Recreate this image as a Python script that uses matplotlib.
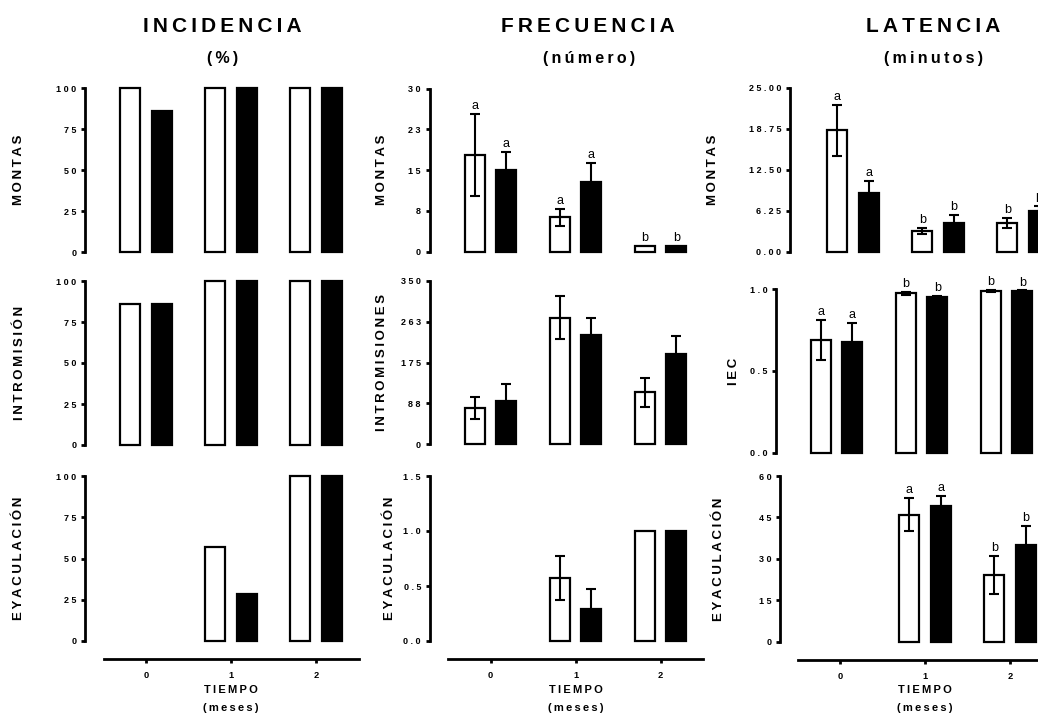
import numpy as np
import matplotlib.pyplot as plt

plt.rcParams['font.family'] = ['Liberation Sans', 'DejaVu Sans']

W, H = 1038, 714
THIN = '\u2009'

groups = ['0', '1', '2']
nan = np.nan

# INCIDENCIA (%)
inc_montas_w = [100, 100, 100]
inc_montas_k = [85.7, 100, 100]
inc_intro_w = [85.7, 100, 100]
inc_intro_k = [85.7, 100, 100]
inc_eyac_w = [nan, 57.1, 100]
inc_eyac_k = [nan, 28.6, 100]

# FRECUENCIA (numero)
frec_montas_w = [17.8, 6.3, 1.0]
frec_montas_w_err = [7.5, 1.5, 0]
frec_montas_k = [15.0, 12.9, 1.0]
frec_montas_k_err = [3.4, 3.4, 0]
frec_intro_w = [78, 271, 111]
frec_intro_w_err = [23.5, 46, 31]
frec_intro_k = [93, 233, 194]
frec_intro_k_err = [36, 38, 37]
frec_eyac_w = [nan, 0.57, 1.0]
frec_eyac_w_err = [0, 0.2, 0]
frec_eyac_k = [nan, 0.29, 1.0]
frec_eyac_k_err = [0, 0.18, 0]

# LATENCIA (minutos)
lat_montas_w = [18.5, 3.15, 4.4]
lat_montas_w_err = [3.9, 0.5, 0.75]
lat_montas_k = [8.9, 4.3, 6.2]
lat_montas_k_err = [1.9, 1.3, 0.7]
iec_w = [0.69, 0.975, 0.99]
iec_w_err = [0.12, 0.01, 0.005]
iec_k = [0.68, 0.95, 0.99]
iec_k_err = [0.115, 0.007, 0.003]
lat_eyac_w = [nan, 46, 24.2]
lat_eyac_w_err = [0, 6, 6.8]
lat_eyac_k = [nan, 49, 35]
lat_eyac_k_err = [0, 3.8, 6.8]

# letras de significancia
let_frec_montas = ['a', 'a', 'b']
let_lat_montas = ['a', 'b', 'b']
let_iec = ['a', 'b', 'b']
let_lat_eyac = ['', 'a', 'b']

pct_ticks = [0, 25, 50, 75, 100]
pct_labels = ['0', '25', '50', '75', '100']

col_titles = ['INCIDENCIA', 'FRECUENCIA', 'LATENCIA']
col_units = ['(%)', '(número)', '(minutos)']


def sp(s, sep=THIN):
    return sep.join(s)


fig = plt.figure(figsize=(W / 100, H / 100), dpi=100)

STEP = 85.0  # px per group


def panel(L, c0, top, bot, w, k, werr, kerr, ymax, yticks, ylabels,
          ylabel, ylab_x, letters=None, bottom_axis=False):
    left = -(c0 - L) / STEP
    right_px = c0 + 2.5 * STEP
    ax = fig.add_axes([L / W, 1 - bot / H, (right_px - L) / W, (bot - top) / H])
    ax.set_xlim(left, 2.5)
    ax.set_ylim(0, ymax)
    x = np.arange(len(groups))
    w = np.array(w, float)
    k = np.array(k, float)
    for xs, vals, fc in [(x - 0.185, w, 'white'), (x + 0.185, k, 'black')]:
        ok = ~np.isnan(vals)
        ax.bar(xs[ok], vals[ok], width=0.235, facecolor=fc, edgecolor='black',
               linewidth=1.6, clip_on=False, zorder=2)
    tops_w, tops_k = w.copy(), k.copy()
    if werr is not None:
        for xs, vals, err in [(x - 0.185, w, werr), (x + 0.185, k, kerr)]:
            err = np.array(err, float)
            ok = ~np.isnan(vals) & (err > 0)
            ax.errorbar(xs[ok], vals[ok], yerr=err[ok], fmt='none', ecolor='black',
                        elinewidth=1.5, capsize=3.6, capthick=1.5, zorder=3,
                        clip_on=False)
        tops_w = w + np.array(werr, float)
        tops_k = k + np.array(kerr, float)
    if letters is not None:
        for xs, tops in [(x - 0.185, tops_w), (x + 0.185, tops_k)]:
            for xi, t, lab in zip(xs, tops, letters):
                if lab and not np.isnan(t):
                    ax.annotate(lab, (xi, t), xytext=(0, 3.5), textcoords='offset points',
                                ha='center', va='baseline', fontsize=9,
                                annotation_clip=False)
    for s in ['top', 'right']:
        ax.spines[s].set_visible(False)
    ax.spines['left'].set_linewidth(2)
    ax.set_yticks(yticks)
    ax.set_yticklabels([sp(t, ' ') for t in ylabels], fontsize=6.5, fontweight='bold')
    ax.tick_params(axis='y', length=3.2, width=2, pad=3)
    if bottom_axis:
        ax.spines['bottom'].set_position(('outward', 13))
        ax.spines['bottom'].set_bounds(-0.5, 2.5)
        ax.spines['bottom'].set_linewidth(2)
        ax.set_xticks(x)
        ax.set_xticklabels(groups, fontsize=6.7, fontweight='bold')
        ax.tick_params(axis='x', length=3, width=2, pad=5.5)
        ax.annotate(sp('TIEMPO'), (1, 0), xycoords=('data', 'axes fraction'),
                    xytext=(0, -35), textcoords='offset points', ha='center',
                    va='center', fontsize=8, fontweight='bold', annotation_clip=False)
        ax.annotate(sp('(meses)'), (1, 0), xycoords=('data', 'axes fraction'),
                    xytext=(0, -48), textcoords='offset points', ha='center',
                    va='center', fontsize=8, fontweight='bold', annotation_clip=False)
    else:
        ax.spines['bottom'].set_visible(False)
        ax.set_xticks([])
    fig.text(ylab_x / W, 1 - (top + bot) / 2 / H, sp(ylabel), rotation=90,
             ha='center', va='center', fontsize=9.5, fontweight='bold')
    return ax


# columna 1: incidencia
panel(85, 146, 88, 252, inc_montas_w, inc_montas_k, None, None, 100,
      pct_ticks, pct_labels, 'MONTAS', 19)
panel(85, 146, 281, 445, inc_intro_w, inc_intro_k, None, None, 100,
      pct_ticks, pct_labels, 'INTROMISIÓN', 20)
panel(85, 146, 476, 641, inc_eyac_w, inc_eyac_k, None, None, 100,
      pct_ticks, pct_labels, 'EYACULACIÓN', 19, bottom_axis=True)

# columna 2: frecuencia
panel(429.5, 490.5, 88.5, 251.7, frec_montas_w, frec_montas_k,
      frec_montas_w_err, frec_montas_k_err, 30,
      [0, 7.5, 15, 22.5, 30], ['0', '8', '15', '23', '30'], 'MONTAS', 382,
      letters=let_frec_montas)
panel(429.5, 490.5, 280.7, 444.3, frec_intro_w, frec_intro_k,
      frec_intro_w_err, frec_intro_k_err, 350,
      [0, 87.5, 175, 262.5, 350], ['0', '88', '175', '263', '350'],
      'INTROMISIONES', 382)
panel(429.5, 490.5, 476, 641, frec_eyac_w, frec_eyac_k,
      frec_eyac_w_err, frec_eyac_k_err, 1.5,
      [0, 0.5, 1.0, 1.5], ['0.0', '0.5', '1.0', '1.5'], 'EYACULACIÓN', 390,
      bottom_axis=True)

# columna 3: latencia
panel(790, 853, 87.7, 251.7, lat_montas_w, lat_montas_k,
      lat_montas_w_err, lat_montas_k_err, 25,
      [0, 6.25, 12.5, 18.75, 25], ['0.00', '6.25', '12.50', '18.75', '25.00'],
      'MONTAS', 713, letters=let_lat_montas)
panel(776, 836.5, 289.3, 452.7, iec_w, iec_k, iec_w_err, iec_k_err, 1.0,
      [0, 0.5, 1.0], ['0.0', '0.5', '1.0'], 'IEC', 734, letters=let_iec)
panel(780, 840, 476, 641.7, lat_eyac_w, lat_eyac_k,
      lat_eyac_w_err, lat_eyac_k_err, 60,
      [0, 15, 30, 45, 60], ['0', '15', '30', '45', '60'], 'EYACULACIÓN', 719,
      letters=let_lat_eyac, bottom_axis=True)

for cx, ttl, unit in zip([222, 588, 933], col_titles, col_units):
    fig.text(cx / W, 1 - 27 / H, sp(ttl), ha='center', va='center',
             fontsize=15, fontweight='bold')
    fig.text((cx + 1) / W, 1 - 59 / H, sp(unit), ha='center', va='center',
             fontsize=11.5, fontweight='bold')

fig.savefig('out.png', dpi=100)
